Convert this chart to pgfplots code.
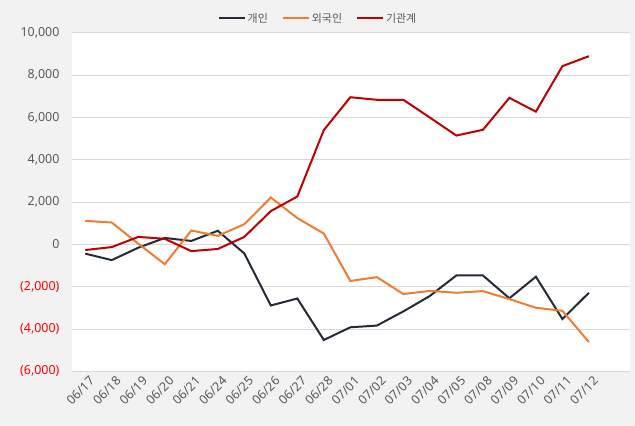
\documentclass[border=0pt]{standalone}
\usepackage{pgfplots}
\pgfplotsset{compat=1.18}
\usepackage{fontspec}
\setmainfont{Noto Sans}
\newfontfamily\kr{Noto Sans CJK KR}
\definecolor{bg}{HTML}{F2F2F2}
\definecolor{gridc}{HTML}{D9D9D9}
\definecolor{txt}{HTML}{595959}
\definecolor{cind}{HTML}{232B36}
\definecolor{cfor}{HTML}{ED7D31}
\definecolor{cins}{HTML}{C00000}
\definecolor{neg}{HTML}{FF0000}
\pgfplotstableread{
x ind for ins
0 -440 1110 -270
1 -745 1030 -130
2 -160 30 350
3 300 -940 260
4 160 650 -320
5 640 400 -220
6 -430 950 350
7 -2890 2210 1570
8 -2560 1240 2260
9 -4520 510 5400
10 -3920 -1730 6950
11 -3840 -1550 6830
12 -3170 -2350 6830
13 -2440 -2200 5990
14 -1470 -2290 5140
15 -1470 -2210 5410
16 -2550 -2590 6920
17 -1530 -3000 6270
18 -3530 -3140 8420
19 -2290 -4620 8890
}\data
\begin{document}
\begin{tikzpicture}
\fill[bg] (0,0) rectangle (635bp,426bp);
\begin{axis}[
  at={(72bp,54.7bp)}, anchor=south west,
  scale only axis, width=558bp, height=338.6bp,
  axis background/.style={fill=white},
  axis line style={draw=none},
  xmin=-0.5, xmax=20.55, ymin=-6000, ymax=10000,
  scaled y ticks=false,
  ytick={-6000,-4000,...,10000},
  yticklabels={\textcolor{neg}{(6,000)},\textcolor{neg}{(4,000)},\textcolor{neg}{(2,000)},0,{2,000},{4,000},{6,000},{8,000},{10,000}},
  xmajorgrids=false, ymajorgrids=true,
  y grid style={draw=gridc, line width=0.8bp},
  xtick={0,...,19},
  xticklabels={06/17,06/18,06/19,06/20,06/21,06/24,06/25,06/26,06/27,06/28,07/01,07/02,07/03,07/04,07/05,07/08,07/09,07/10,07/11,07/12},
  major tick length=0pt,
  tick style={draw=none},
  tick label style={font=\fontsize{12.5}{14}\selectfont, text=txt},
  yticklabel style={xshift=-9bp},
  xticklabel style={rotate=45, anchor=north east, xshift=3bp, yshift=-2bp},
  /pgf/number format/assume math mode=true,
  legend style={at={(0.5,1)}, anchor=south, xshift=-33bp, yshift=5bp, draw=none, fill=none,
    font=\kr\fontsize{11}{13}\selectfont, text=txt, legend columns=-1,
    /tikz/every even column/.append style={column sep=12bp}},
  legend image code/.code={\draw[#1, line width=2bp] (0bp,0bp) -- (26bp,0bp);},
  every axis plot/.append style={line width=2bp, mark=none},
  clip=false,
]
\addplot[cind] table[x=x,y=ind] {\data};
\addplot[cfor] table[x=x,y=for] {\data};
\addplot[cins] table[x=x,y=ins] {\data};
\legend{개인,외국인,기관계}
\end{axis}
\pgfresetboundingbox
\useasboundingbox (0,0) rectangle (635bp,426bp);
\end{tikzpicture}
\end{document}
